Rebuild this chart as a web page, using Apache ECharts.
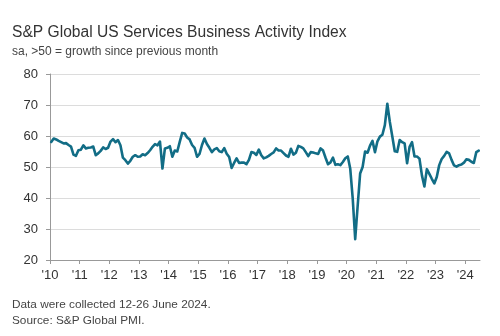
<!DOCTYPE html>
<html>
<head>
<meta charset="utf-8">
<script src="https://cdn.jsdelivr.net/npm/echarts@6/dist/echarts.min.js"></script>
<style>
  html, body { margin: 0; padding: 0; background: #fff; }
  #chart { width: 500px; height: 336px; }
</style>
</head>
<body>
<div id="chart"></div>
<script>
// monthly index values, Jan..Dec (2024 up to June)
var y2010 = [58.1, 59.2, 58.9, 58.4, 58.0, 57.6, 57.7, 57.1, 56.6, 54.0, 53.6, 55.4]
var y2011 = [55.6, 57.0, 56.0, 56.2, 56.3, 56.6, 53.8, 54.4, 55.2, 56.3, 55.8, 56.2]
var y2012 = [58.2, 59.0, 58.0, 58.7, 57.0, 53.0, 52.2, 51.1, 52.0, 53.3, 53.8, 53.3]
var y2013 = [53.4, 54.1, 53.8, 54.5, 55.4, 56.5, 57.4, 57.0, 58.2, 49.5, 56.0, 56.2]
var y2014 = [56.7, 53.3, 55.3, 55.0, 58.1, 61.0, 60.8, 59.5, 58.9, 57.1, 56.2, 53.3]
var y2015 = [54.2, 57.1, 59.2, 57.4, 56.2, 54.8, 55.7, 56.1, 55.1, 54.8, 56.1, 54.3]
var y2016 = [53.2, 49.7, 51.3, 52.8, 51.3, 51.4, 51.4, 50.9, 52.3, 54.8, 54.6, 53.9]
var y2017 = [55.6, 53.8, 52.8, 53.1, 53.6, 54.2, 54.7, 56.0, 55.3, 55.3, 54.5, 53.7]
var y2018 = [53.3, 55.9, 54.0, 54.6, 56.8, 56.5, 56.0, 54.8, 53.5, 54.8, 54.7, 54.4]
var y2019 = [54.2, 56.0, 55.3, 53.0, 50.9, 51.5, 53.0, 50.7, 50.9, 50.6, 51.6, 52.8]
var y2020 = [53.4, 49.4, 39.8, 26.7, 37.5, 47.9, 50.0, 55.0, 54.6, 56.9, 58.4, 54.8]
var y2021 = [58.3, 59.8, 60.4, 63.5, 70.4, 64.6, 59.9, 55.1, 54.9, 58.7, 58.0, 57.6]
var y2022 = [51.2, 56.5, 58.0, 53.4, 53.4, 52.7, 47.3, 43.7, 49.3, 47.8, 46.2, 44.7]
var y2023 = [46.8, 50.6, 52.6, 53.6, 54.9, 54.4, 52.3, 50.5, 50.1, 50.6, 50.8, 51.4]
var y2024 = [52.5, 52.3, 51.7, 51.3, 54.8, 55.3]

var years = [2010, 2011, 2012, 2013, 2014, 2015, 2016, 2017, 2018, 2019, 2020, 2021, 2022, 2023, 2024]
var yearValues = [y2010, y2011, y2012, y2013, y2014, y2015, y2016, y2017, y2018, y2019, y2020, y2021, y2022, y2023, y2024]

// each month sits at the middle of its slot on a year axis
var seriesData = []
yearValues.forEach(function (vals, i) {
  vals.forEach(function (v, m) {
    seriesData.push([years[i] + (m + 0.5) / 12, v])
  })
})

var textColor = '#333'
var font = 'Liberation Sans, Arial, sans-serif'

var chart = echarts.init(document.getElementById('chart'), null, { renderer: 'canvas' })
chart.setOption({
  animation: false,
  backgroundColor: '#fff',
  title: [{
    text: 'S&P Global US Services Business Activity Index',
    left: 12,
    top: 25,
    padding: 0,
    textStyle: { fontSize: 15.6, fontWeight: 'normal', color: '#333', fontFamily: font }
  }, {
    text: 'sa, >50 = growth since previous month',
    left: 12,
    top: 46,
    padding: 0,
    textStyle: { fontSize: 12, fontWeight: 'normal', color: '#444', fontFamily: font }
  }, {
    text: 'Data were collected 12-26 June 2024.',
    left: 12,
    top: 299,
    padding: 0,
    textStyle: { fontSize: 11.8, fontWeight: 'normal', color: '#444', fontFamily: font }
  }, {
    text: 'Source: S&P Global PMI.',
    left: 12,
    top: 315,
    padding: 0,
    textStyle: { fontSize: 11.8, fontWeight: 'normal', color: '#444', fontFamily: font }
  }],
  grid: {
    left: 50,
    right: 20,
    top: 74,
    bottom: 76,
    containLabel: false
  },
  xAxis: {
    type: 'value',
    min: 2010,
    max: 2024.5,
    axisLine: { show: true, lineStyle: { color: '#999', width: 1 } },
    axisTick: {
      show: true,
      length: 4,
      customValues: years,
      lineStyle: { color: '#999' }
    },
    axisLabel: {
      customValues: years,
      margin: 9,
      fontSize: 13,
      color: textColor,
      fontFamily: font,
      formatter: function (v) {
        return "'" + String(v).slice(2)
      }
    },
    splitLine: { show: false }
  },
  yAxis: {
    type: 'value',
    min: 20,
    max: 80,
    interval: 10,
    axisLine: { show: true, lineStyle: { color: '#999', width: 1 } },
    axisTick: { show: true, length: 4, lineStyle: { color: '#999' } },
    axisLabel: {
      margin: 12,
      fontSize: 13,
      color: textColor,
      fontFamily: font
    },
    splitLine: { show: true, lineStyle: { color: '#dcdcdc', width: 1 } }
  },
  series: [{
    name: 'Business Activity Index',
    type: 'line',
    data: seriesData,
    showSymbol: false,
    smooth: false,
    lineStyle: { color: '#126d86', width: 2.6, join: 'round', cap: 'round' },
    itemStyle: { color: '#126d86' }
  }]
})
</script>
</body>
</html>
